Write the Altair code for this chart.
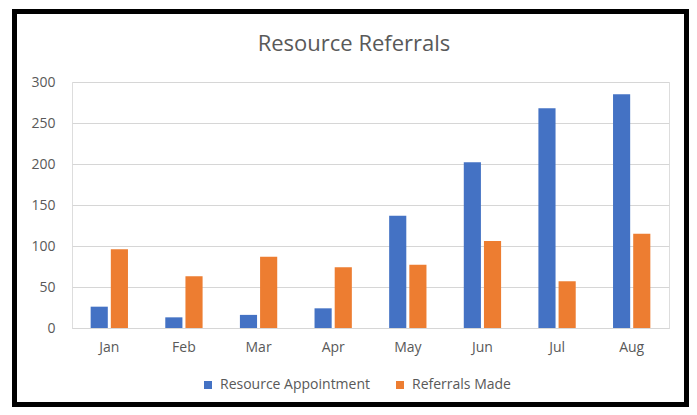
import altair as alt
import pandas as pd

months = ["Jan", "Feb", "Mar", "Apr", "May", "Jun", "Jul", "Aug"]
appointments = [26, 13, 16, 24, 137, 202, 268, 285]
referrals = [96, 63, 87, 74, 77, 106, 57, 115]
series = ["Resource Appointment", "Referrals Made"]
colors = ["#4472C4", "#ED7D31"]
y_ticks = [0, 50, 100, 150, 200, 250, 300]
title_text = "Resource Referrals"

rows = []
for m, a, r in zip(months, appointments, referrals):
    rows.append({"month": m, "series": series[0], "value": a})
    rows.append({"month": m, "series": series[1], "value": r})
df = pd.DataFrame(rows)

FONT = "Open Sans"
TEXT = "#595959"
GRID = "#d6d6d6"

bars = alt.Chart(df).mark_bar().encode(
    x=alt.X(
        "month:N",
        sort=months,
        scale=alt.Scale(paddingInner=0.5, paddingOuter=0.25),
        axis=alt.Axis(
            title=None, labelAngle=0, ticks=False, domain=True, domainColor=GRID,
            labelPadding=12, labelFontSize=14, labelColor=TEXT, labelFont=FONT,
        ),
    ),
    xOffset=alt.XOffset("series:N", sort=series, scale=alt.Scale(paddingInner=0.15)),
    y=alt.Y(
        "value:Q",
        scale=alt.Scale(domain=[0, 300]),
        axis=alt.Axis(
            title=None, values=y_ticks, ticks=False, domain=False, gridColor=GRID,
            labelPadding=17, labelFontSize=14, labelColor=TEXT, labelFont=FONT,
        ),
    ),
    color=alt.Color(
        "series:N",
        sort=series,
        scale=alt.Scale(domain=series, range=colors),
        legend=alt.Legend(
            title=None, orient="none", legendX=129, legendY=296, direction="horizontal",
            symbolType="square", symbolSize=64, symbolStrokeWidth=0, labelFontSize=14,
            labelColor=TEXT, labelFont=FONT, columnPadding=22, labelOffset=5,
        ),
    ),
)

aux = pd.DataFrame({"label": [title_text]})

frame = alt.Chart(aux).mark_rect(
    fillOpacity=0, stroke="black", strokeWidth=5
).encode(
    x=alt.value(-57.5), x2=alt.value(614.5), y=alt.value(-70.5), y2=alt.value(322.5)
)

title = alt.Chart(aux).mark_text(
    fontSize=22, color=TEXT, font=FONT, align="center", baseline="middle"
).encode(
    text="label:N", x=alt.value(282), y=alt.value(-38)
)

chart = alt.layer(bars, frame, title).properties(
    width=597,
    height=246,
    padding={"left": 64, "top": 74, "right": 20, "bottom": 79},
    autosize=alt.AutoSizeParams(type="none"),
).configure_view(stroke=None).configure(background="white")

chart.save("out.html", embed_options={"renderer": "svg", "actions": False})
